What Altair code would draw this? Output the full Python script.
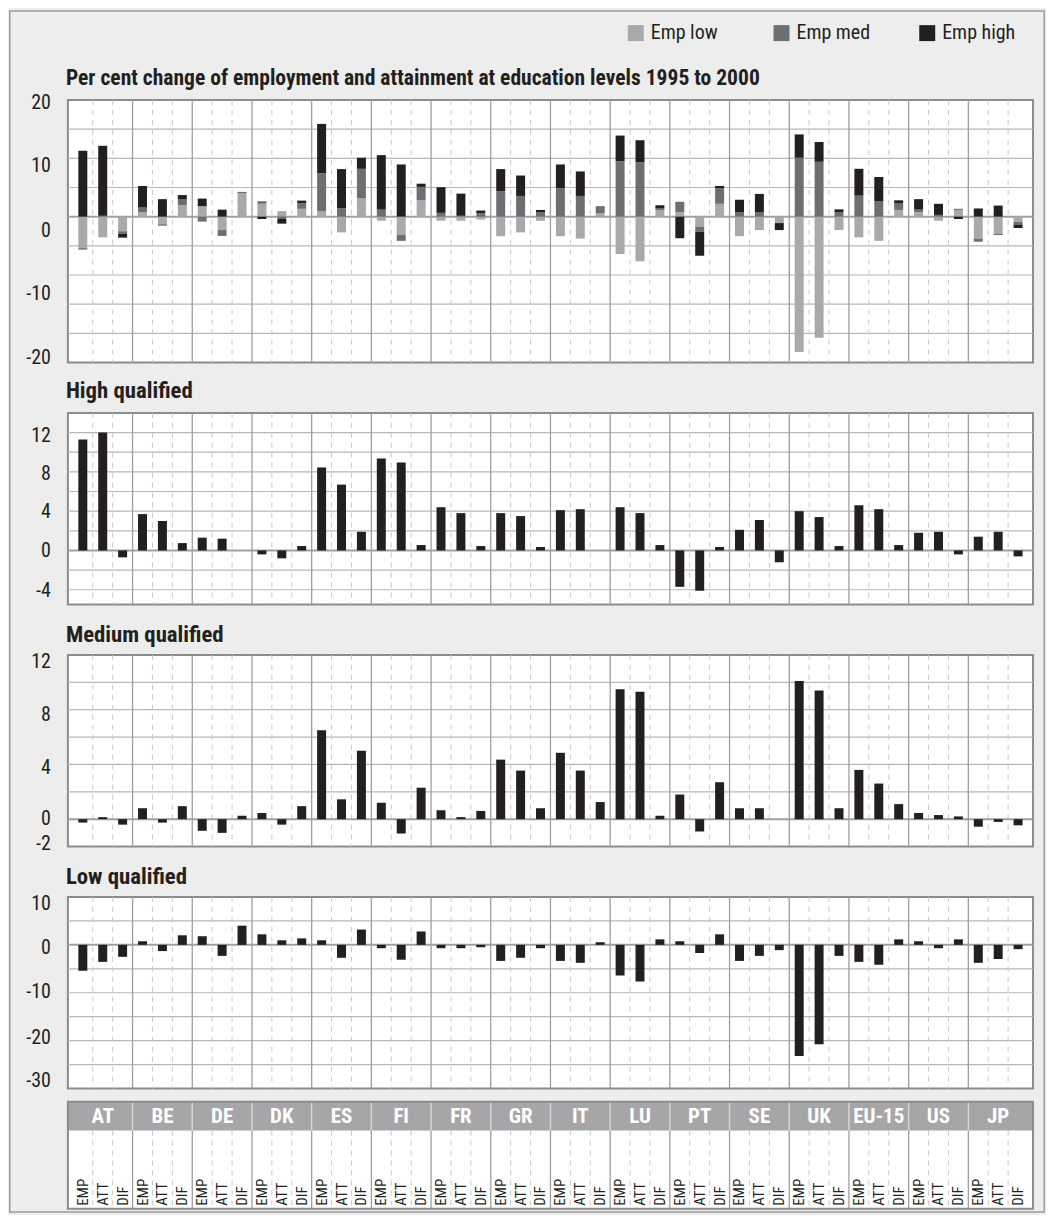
import altair as alt
import pandas as pd

FONT = "Liberation Sans Narrow, Roboto Condensed, DejaVu Sans Condensed, Arial Narrow, sans-serif"
INK = "#231f20"

countries = ["AT", "BE", "DE", "DK", "ES", "FI", "FR", "GR", "IT", "LU",
             "PT", "SE", "UK", "EU-15", "US", "JP"]
measures = ["EMP", "ATT", "DIF"]
series_names = ["Emp low", "Emp med", "Emp high"]
series_colors = ["#a7a9ac", "#6d6e71", "#231f20"]

# values per country: EMP, ATT, DIF
high_vals = [11.3, 12.0, -0.7,   3.7, 3.0, 0.75,   1.3, 1.2, 0.0,   -0.4, -0.8, 0.45,
             8.45, 6.7, 1.9,    9.35, 8.95, 0.55,  4.4, 3.8, 0.45,  3.8, 3.5, 0.35,
             4.1, 4.2, 0.0,     4.4, 3.8, 0.55,    -3.7, -4.1, 0.35, 2.1, 3.1, -1.2,
             4.0, 3.4, 0.45,    4.6, 4.2, 0.55,    1.8, 1.9, -0.4,  1.4, 1.9, -0.6]
med_vals = [-0.25, 0.15, -0.4,  0.8, -0.25, 0.95,  -0.85, -1.0, 0.25,  0.45, -0.4, 0.95,
            6.5, 1.45, 5.0,     1.2, -1.05, 2.3,   0.65, 0.15, 0.6,    4.35, 3.55, 0.8,
            4.85, 3.55, 1.25,   9.5, 9.3, 0.25,    1.8, -0.9, 2.7,     0.8, 0.8, 0.0,
            10.1, 9.4, 0.8,     3.6, 2.6, 1.1,     0.45, 0.3, 0.2,     -0.55, -0.2, -0.45]
low_vals = [-5.4, -3.55, -2.5,  0.75, -1.3, 2.0,   1.8, -2.3, 4.0,    2.2, 0.95, 1.35,
            0.95, -2.7, 3.2,    -0.7, -3.1, 2.8,   -0.7, -0.7, -0.5,  -3.35, -2.7, -0.7,
            -3.35, -3.75, 0.55, -6.4, -7.65, 1.15, 0.75, -1.7, 2.2,   -3.35, -2.3, -1.1,
            -23.2, -20.75, -2.3, -3.55, -4.15, 1.15, 0.75, -0.7, 1.15, -3.75, -2.95, -0.9]

main_title = "Per cent change of employment and attainment at education levels 1995 to 2000"
panel_titles = ["High qualified", "Medium qualified", "Low qualified"]

top_domain = [-25, 20]
top_grid = [-20, -15, -10, -5, 5, 10, 15]
top_tick_pos = [19.4, 8.6, -2.4, -13.2, -24.2]
top_tick_txt = ["20", "10", "0", "-10", "-20"]

high_domain = [-5.5, 14]
high_grid = [-4, -2, 2, 4, 6, 8, 10, 12]
high_tick_pos = [11.67, 7.73, 3.87, -0.1, -4.16]
high_tick_txt = ["12", "8", "4", "0", "-4"]

med_domain = [-2, 12]
med_grid = [2, 4, 6, 8, 10]
med_tick_pos = [11.46, 7.61, 3.75, 0, -1.8]
med_tick_txt = ["12", "8", "4", "0", "-2"]

low_domain = [-30, 10]
low_grid = [-25, -20, -15, -10, -5, 5]
low_tick_pos = [8.6, -0.6, -9.8, -19.4, -28.5]
low_tick_txt = ["10", "0", "-10", "-20", "-30"]

# ---------------------------------------------------------------- tables
n_items = len(countries) * len(measures)
rows, stack_rows = [], []
for ci, c in enumerate(countries):
    for mi, m in enumerate(measures):
        i = ci * len(measures) + mi
        rows.append(dict(country=c, measure=m, pos=i + 0.5,
                         high=high_vals[i], med=med_vals[i], low=low_vals[i]))
        for si, (s, arr) in enumerate(zip(series_names, [low_vals, med_vals, high_vals])):
            stack_rows.append(dict(pos=i + 0.5, series=s, ord=si, value=arr[i]))
df = pd.DataFrame(rows)
stack_df = pd.DataFrame(stack_rows)
country_df = pd.DataFrame({"country": countries,
                           "cpos": [ci * 3 + 1.5 for ci in range(len(countries))]})
solid_df = pd.DataFrame({"b": [k for k in range(1, n_items) if k % 3 == 0]})
dash_df = pd.DataFrame({"b": [k for k in range(1, n_items) if k % 3 != 0]})
one_df = pd.DataFrame({"a": [0]})

W = 967
XS = alt.Scale(domain=[0, n_items], nice=False, zero=False)


def xq(field):
    return alt.X(f"{field}:Q", scale=XS, axis=None)


def yq(field, dom):
    return alt.Y(f"{field}:Q", scale=alt.Scale(domain=dom, nice=False, zero=False), axis=None)


def base_layers(dom, grid_vals):
    hgrid = alt.Chart(pd.DataFrame({"g": grid_vals})).mark_rule(
        color="#b7b7b7", strokeWidth=1.2).encode(y=yq("g", dom))
    dashed = alt.Chart(dash_df).mark_rule(
        color="#c8c8c8", strokeWidth=1, strokeDash=[5, 5]).encode(x=xq("b"))
    solid = alt.Chart(solid_df).mark_rule(
        color="#9e9e9e", strokeWidth=1.3).encode(x=xq("b"))
    zero = alt.Chart(pd.DataFrame({"z": [0]})).mark_rule(
        color="#a0a0a0", strokeWidth=2).encode(y=yq("z", dom))
    return [hgrid, dashed, solid, zero]


def tick_layer(dom, pos, txt):
    return alt.Chart(pd.DataFrame({"v": pos, "t": txt})).mark_text(
        align="right", baseline="middle", font=FONT, fontSize=20, color=INK
    ).encode(x=alt.value(-17), y=yq("v", dom), text="t:N")


def title_layer(text, dy, size):
    return alt.Chart(pd.DataFrame({"t": [text]})).mark_text(
        align="left", baseline="alphabetic", font=FONT, fontSize=size,
        fontWeight="bold", color=INK
    ).encode(x=alt.value(-2), y=alt.value(dy), text="t:N")


def simple_panel(field, dom, grid_vals, tpos, ttxt, title, dy, extra=()):
    bars = alt.Chart(df).mark_bar(orient="vertical", size=9, color=INK).encode(
        x=xq("pos"), y=yq(field, dom), y2=alt.datum(0))
    layers = base_layers(dom, grid_vals) + [bars, tick_layer(dom, tpos, ttxt),
                                            title_layer(title, dy, 22.8)] + list(extra)
    return alt.layer(*layers).properties(width=W, height=192)


# ---------------------------------------------------------------- top panel
top_bars = alt.Chart(stack_df).mark_bar(orient="vertical", size=9).encode(
    x=xq("pos"),
    y=alt.Y("value:Q", stack="zero",
            scale=alt.Scale(domain=top_domain, nice=False, zero=False), axis=None),
    color=alt.Color("series:N",
                    scale=alt.Scale(domain=series_names, range=series_colors),
                    legend=alt.Legend(orient="none", legendX=559, legendY=-77,
                                      direction="horizontal", title=None,
                                      symbolType="square", symbolSize=256,
                                      symbolStrokeWidth=0, symbolOpacity=1,
                                      labelFont=FONT, labelFontSize=20,
                                      labelColor=INK, labelOffset=5,
                                      gridAlign="all",
                                      columnPadding=47, padding=0)),
    order=alt.Order("ord:Q", sort="ascending"),
)
frame = alt.Chart(one_df).mark_rect(filled=False, color="#9b9b9b", strokeWidth=1.5).encode(
    x=alt.value(-58.25), x2=alt.value(978.25), y=alt.value(-89.25), y2=alt.value(1114.25))

top = alt.layer(
    *base_layers(top_domain, top_grid), top_bars,
    tick_layer(top_domain, top_tick_pos, top_tick_txt),
    title_layer(main_title, -15, 21.6), frame,
).properties(width=W, height=263)

# ---------------------------------------------------------------- strip under low panel
S0, S1, S2 = 205.2, 234.0, 312.5
strip = [
    alt.Chart(one_df).mark_rect(fill="white").encode(
        x=alt.value(0), x2=alt.value(W), y=alt.value(S0), y2=alt.value(S2)),
    alt.Chart(one_df).mark_rect(fill="#a6a6a8").encode(
        x=alt.value(0), x2=alt.value(W), y=alt.value(S0), y2=alt.value(S1)),
    alt.Chart(solid_df).mark_rule(color="#d6d6d6", strokeWidth=1.5).encode(
        x=xq("b"), y=alt.value(S0), y2=alt.value(S1)),
    alt.Chart(solid_df).mark_rule(color="#9e9e9e", strokeWidth=1.3).encode(
        x=xq("b"), y=alt.value(S1), y2=alt.value(S2)),
    alt.Chart(dash_df).mark_rule(color="#c8c8c8", strokeWidth=1, strokeDash=[5, 5]).encode(
        x=xq("b"), y=alt.value(S1), y2=alt.value(S2)),
    alt.Chart(country_df).mark_text(color="white", fontWeight="bold", font=FONT,
                                    fontSize=21, baseline="middle").encode(
        x=xq("cpos"), y=alt.value((S0 + S1) / 2 + 1), text="country:N"),
    alt.Chart(df).mark_text(angle=270, align="left", baseline="middle", font=FONT,
                            fontSize=15, color=INK).encode(
        x=xq("pos"), y=alt.value(S2 - 3), text="measure:N"),
    alt.Chart(one_df).mark_rect(filled=False, color="#8c8c8c", strokeWidth=2).encode(
        x=alt.value(0), x2=alt.value(W), y=alt.value(S0), y2=alt.value(S2)),
]

high_p = simple_panel("high", high_domain, high_grid, high_tick_pos, high_tick_txt,
                      panel_titles[0], -14.8)
med_p = simple_panel("med", med_domain, med_grid, med_tick_pos, med_tick_txt,
                     panel_titles[1], -13.3)
low_p = simple_panel("low", low_domain, low_grid, low_tick_pos, low_tick_txt,
                     panel_titles[2], -12.5, extra=strip)

chart = alt.vconcat(top, high_p, med_p, low_p, spacing=50.5, bounds="flush").properties(
    background="#ededed", padding=0
).configure_view(stroke="#8c8c8c", strokeWidth=2, fill="white")

chart.save("out.html", embed_options={"renderer": "svg", "actions": False})
